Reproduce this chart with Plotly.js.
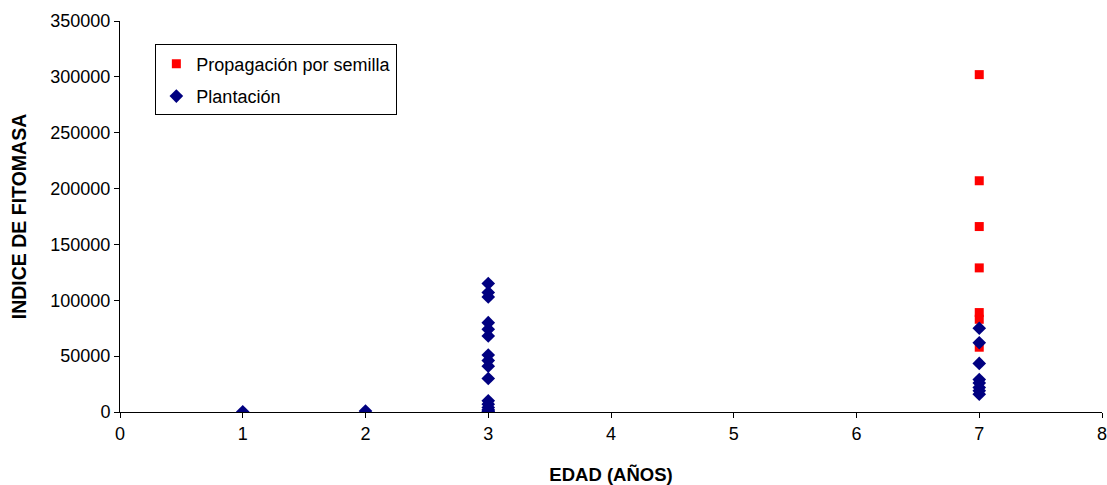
<!DOCTYPE html>
<html>
<head>
<meta charset="utf-8">
<script src="https://cdn.plot.ly/plotly-3.0.1.min.js"></script>
<style>html,body{margin:0;padding:0;background:#fff;}#chart{width:1107px;height:485px;}</style>
</head>
<body>
<div id="chart"></div>
<script>
// Propagación por semilla (edad 7)
const semillaEdad = [7, 7, 7, 7, 7, 7, 7];
const semillaValores = [302000, 207000, 166000, 129000, 89000, 83000, 58000];

// Plantación
const plantacionEdad = [1, 2,
  3, 3, 3, 3, 3, 3, 3, 3, 3, 3, 3, 3, 3, 3, 3, 3,
  7, 7, 7, 7, 7, 7, 7, 7];
const plantacionValores = [200, 800,
  115000, 107000, 103000, 80000, 74000, 68000, 51000, 46000, 41000, 30000, 10000, 7000, 4000, 2000, 1000, 300,
  75000, 62000, 43500, 29000, 26000, 22000, 19000, 16000];

const xTicks = [0, 1, 2, 3, 4, 5, 6, 7, 8];
const yTicks = [0, 50000, 100000, 150000, 200000, 250000, 300000, 350000];

const fam = 'Liberation Sans, Arial, sans-serif';
const fnt = {family: fam, size: 18, color: '#000'};

const traces = [
  {
    x: semillaEdad, y: semillaValores, mode: 'markers', type: 'scatter',
    name: 'Propagación por semilla', legendgroup: 'a',
    marker: {symbol: 'square', size: 9, color: '#FF0000'}
  },
  {
    x: plantacionEdad, y: plantacionValores, mode: 'markers', type: 'scatter',
    name: 'Plantación', legendgroup: 'b',
    marker: {symbol: 'diamond', size: 10.5, color: '#000080'}
  }
];

const layout = {
  width: 1107, height: 485,
  margin: {l: 120, r: 5, t: 21, b: 73},
  paper_bgcolor: '#fff', plot_bgcolor: '#fff',
  font: fnt,
  showlegend: true,
  legend: {
    x: 0.036, y: 0.94, xanchor: 'left', yanchor: 'top',
    bordercolor: '#000', borderwidth: 1, bgcolor: '#fff',
    font: fnt, tracegroupgap: 6, itemwidth: 30, traceorder: 'grouped'
  },
  xaxis: {
    range: [0, 8], tickvals: xTicks, ticktext: xTicks.map(String),
    showgrid: false, zeroline: false, showline: true, linecolor: '#000', linewidth: 1,
    ticks: 'outside', ticklen: 5, tickcolor: '#000', tickfont: fnt, ticklabeloverflow: 'allow',
    title: {text: '<b>EDAD (AÑOS)</b>', font: {family: fam, size: 18.5, color: '#000'}, standoff: 26}
  },
  yaxis: {
    range: [0, 350000], tickvals: yTicks, ticktext: yTicks.map(String),
    showgrid: false, zeroline: false, showline: true, linecolor: '#000', linewidth: 1,
    ticks: 'outside', ticklen: 5, tickcolor: '#000', tickfont: fnt,
    title: {text: '<b>INDICE DE FITOMASA</b>', font: {family: fam, size: 19.5, color: '#000'}, standoff: 18}
  }
};

Plotly.newPlot('chart', traces, layout, {displayModeBar: false, staticPlot: true});
</script>
</body>
</html>
